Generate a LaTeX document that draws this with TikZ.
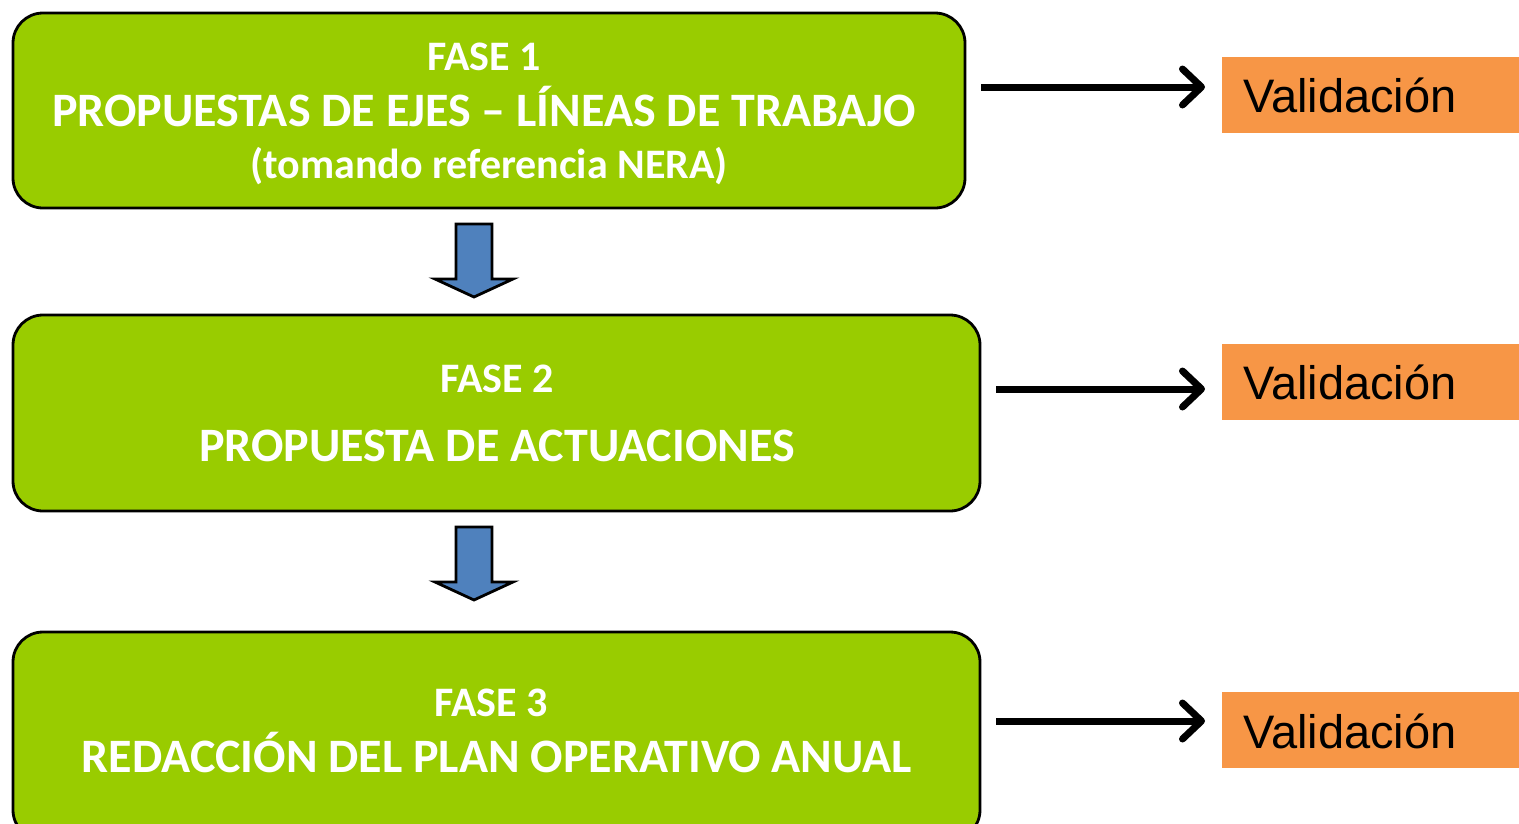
\documentclass[tikz,border=0pt]{standalone}
\usepackage{fontspec}
\setmainfont{Carlito}
\newfontfamily\arialf{Liberation Sans}
\usetikzlibrary{arrows.meta}
\definecolor{fgreen}{HTML}{99CC00}
\definecolor{forange}{HTML}{F79646}
\definecolor{fblue}{HTML}{4F81BD}
\tikzset{
  phasebox/.style={draw=black, line width=2.8pt, fill=fgreen, rounded corners=30pt},
  phasetxt/.style={text=white, anchor=base, inner sep=0pt},
  small/.style={font=\bfseries\fontsize{42}{44}\selectfont},
  big/.style={font=\bfseries\fontsize{48}{50}\selectfont},
  valbox/.style={fill=forange, draw=none, minimum width=297pt, minimum height=76pt, anchor=north west, inner sep=0pt},
  valtxt/.style={font=\arialf\fontsize{47}{50}\selectfont, anchor=base west, inner sep=0pt},
  flowarrow/.style={line width=7pt, -{Straight Barb[length=19pt,width=36pt,line cap=round,line join=round]}},
  blockarrow/.style={fill=fblue, draw=black, line width=2.8pt, line join=miter}
}
\begin{document}
\begin{tikzpicture}[x=1pt,y=-1pt]
\useasboundingbox (0,0) rectangle (1519,823);
\begin{scope}
\clip (0,0) rectangle (1519,823);
% phase boxes
\draw[phasebox] (13,13) rectangle (965,208);
\draw[phasebox] (13,315) rectangle (980,511);
\draw[phasebox] (13,632) rectangle (980,840);
\end{scope}
\node[phasetxt, small] (f1a) at (484,70) {FASE 1};
\node[phasetxt, big] (f1b) at (484,126) {PROPUESTAS DE EJES – LÍNEAS DE TRABAJO};
\node[phasetxt, small] (f1c) at (489,178) {(tomando referencia NERA)};
\node[phasetxt, small] (f2a) at (497,392) {FASE 2};
\node[phasetxt, big] (f2b) at (497,461) {PROPUESTA DE ACTUACIONES};
\node[phasetxt, small] (f3a) at (491,716) {FASE 3};
\node[phasetxt, big] (f3b) at (497,772) {REDACCIÓN DEL PLAN OPERATIVO ANUAL};
% block arrows
\draw[blockarrow] (456,224) -- (492,224) -- (492,279) -- (513,279) -- (474,297) -- (435,279) -- (456,279) -- cycle;
\draw[blockarrow] (456,527) -- (492,527) -- (492,582) -- (513,582) -- (474,600) -- (435,582) -- (456,582) -- cycle;
% validation boxes
\node[valbox] (v1) at (1222,57) {};
\node[valbox] (v2) at (1222,344) {};
\node[valbox] (v3) at (1222,692) {};
\node[valtxt] (v1t) at (1243,112) {Validación};
\node[valtxt] (v2t) at (1243,399) {Validación};
\node[valtxt] (v3t) at (1243,748) {Validación};
% connectors
\coordinate (s1) at (981,87);
\coordinate (s2) at (996,389);
\coordinate (s3) at (996,721);
\draw[flowarrow] (s1) -- ([xshift=-17pt]s1 -| v1.west);
\draw[flowarrow] (s2) -- ([xshift=-17pt]s2 -| v2.west);
\draw[flowarrow] (s3) -- ([xshift=-17pt]s3 -| v3.west);
\end{tikzpicture}
\end{document}
